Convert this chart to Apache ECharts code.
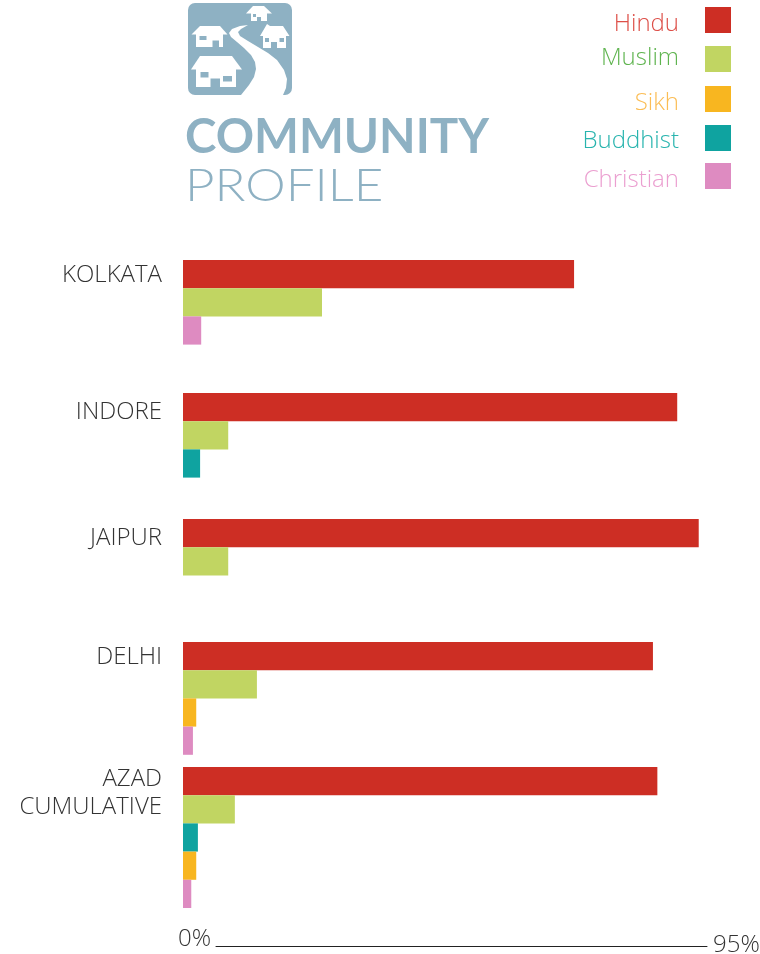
<!DOCTYPE html>
<html><head><meta charset="utf-8">
<style>html,body{margin:0;padding:0;background:#fff}#c{width:760px;height:954px}</style>
<script src="https://cdn.jsdelivr.net/npm/echarts@6/dist/echarts.min.js"></script>
</head><body><div id="c"></div>
<script>
const cities = ['KOLKATA', 'INDORE', 'JAIPUR', 'DELHI', 'AZAD\nCUMULATIVE'];
const religions = ['Hindu', 'Muslim', 'Buddhist', 'Sikh', 'Christian'];
const hindu = [70.9, 89.6, 93.5, 85.2, 86.0];
const muslim = [25.2, 8.2, 8.2, 13.4, 9.4];
const buddhist = [null, 3.1, null, null, 2.7];
const sikh = [null, null, null, 2.4, 2.4];
const christian = [3.3, null, null, 1.8, 1.5];
const axisLabels = ['0%', '95%'];
const axisMax = 95;

const values = {Hindu: hindu, Muslim: muslim, Buddhist: buddhist, Sikh: sikh, Christian: christian};
const barColors = {Hindu: '#cd2e24', Muslim: '#c1d562', Sikh: '#f8b620', Buddhist: '#0fa3a0', Christian: '#de8bc1'};
const textColors = {Hindu: '#dd4f48', Muslim: '#5fb44f', Sikh: '#fbbd55', Buddhist: '#28b4ae', Christian: '#eb9fd0'};
const legendOrder = ['Hindu', 'Muslim', 'Sikh', 'Buddhist', 'Christian'];
const legendY = [24, 58, 103, 141, 180];
const groupTops = [260, 393, 519, 642, 767];
const labelY = [275, 412, 538, 657, 793];
const slot = 28.2, left = 183, plotW = 524;
const FONT = '"Open Sans", sans-serif', BLUE = '#8eb1c3';

const grid = [], xAxis = [], yAxis = [], series = [];
cities.forEach((city, i) => {
  const present = religions.filter(r => values[r][i] != null);
  grid.push({left, width: plotW, top: groupTops[i], height: present.length * slot});
  xAxis.push({gridIndex: i, type: 'value', min: 0, max: axisMax, show: false});
  yAxis.push({gridIndex: i, type: 'category', inverse: true, data: present, show: false});
  series.push({type: 'bar', name: city, xAxisIndex: i, yAxisIndex: i, barWidth: '100%', silent: true,
    data: present.map(r => ({value: values[r][i], itemStyle: {color: barColors[r]}}))});
});
// scale line along the bottom
grid.push({left: 216, width: 491, top: 945, height: 1});
xAxis.push({gridIndex: 5, type: 'value', min: 0, max: axisMax, position: 'bottom',
  axisLine: {show: true, onZero: false, lineStyle: {color: '#222', width: 1}},
  axisTick: {show: false}, axisLabel: {show: false}, splitLine: {show: false}});
yAxis.push({gridIndex: 5, type: 'value', show: false});

const g = [];
const T = (x, y, text, o, extra) => g.push(Object.assign({type: 'text', x, y, silent: true,
  style: Object.assign({text, fontFamily: FONT, fontSize: 24, fontWeight: 300, fill: '#333', align: 'left', verticalAlign: 'middle'}, o)}, extra));
// city labels
cities.forEach((city, i) => T(162, labelY[i], city, {align: 'right', lineHeight: 28}));
// legend
legendOrder.forEach((r, i) => {
  g.push({type: 'rect', shape: {x: 705, y: [7, 46, 86, 125, 163][i], width: 26, height: 26}, style: {fill: barColors[r]}, silent: true});
  T(679, legendY[i], r, {align: 'right', fill: textColors[r]});
});
// axis end labels
T(178, 939, axisLabels[0], {});
T(713, 945, axisLabels[1], {});
// logo
const W = '#fff';
g.push({type: 'rect', shape: {x: 188, y: 3, width: 104, height: 92, r: 7}, style: {fill: BLUE}, silent: true});
const poly = (pts, fill) => g.push({type: 'polygon', silent: true, shape: {points: pts}, style: {fill}});
const box = (x, y, w, h, fill) => g.push({type: 'rect', silent: true, shape: {x, y, width: w, height: h}, style: {fill}});
poly([[248,25],[240,26],[232,29],[229,33],[231,37],[237,42],[244,48],[251,55],[255,62],[256,69],[254,77],[249,85],[241,95],
      [283,95],[286,88],[287,79],[284,70],[277,60],[268,53],[258,47],[248,41],[240,36],[238,32],[241,29],[248,25]], W);
poly([[200,26],[220,26],[227.5,34.5],[191.5,34.5]], W); box(196,34,27,13,W); box(199.5,36,7,4,BLUE); box(212.5,40.5,6.5,6.5,BLUE);
poly([[200,56],[232,56],[242,69.5],[191,69.5]], W); box(196,69,40,18,W); box(200.5,72,8,5.5,BLUE); box(223,76,9,5.5,BLUE); box(210.5,78.5,9.5,8.5,BLUE);
poly([[253,6],[264,6],[272,13.5],[246,13.5]], W); box(251,13,16,8,W); box(253,14,3,3,BLUE); box(257,17,4,4,BLUE);
poly([[267,24],[270,26],[283,26],[289.5,36],[260,36]], W); box(263,36,23,12,W); box(265,38,4,4,BLUE); box(279.5,38,4.5,4,BLUE); box(271,42,6,6,BLUE);
// wordmark
T(185, 138, 'COMMUNITY', {fontFamily: 'Lato, sans-serif', fontWeight: 700, fontSize: 47.5, fill: BLUE});
T(185, 186, 'PROFILE', {fontFamily: 'Lato, sans-serif', fontWeight: 300, fontSize: 46, fill: BLUE}, {scaleX: 1.11});

const chart = echarts.init(document.getElementById('c'), null, {renderer: 'canvas'});
chart.setOption({animation: false, backgroundColor: '#fff', grid, xAxis, yAxis, series, graphic: g});
</script></body></html>
